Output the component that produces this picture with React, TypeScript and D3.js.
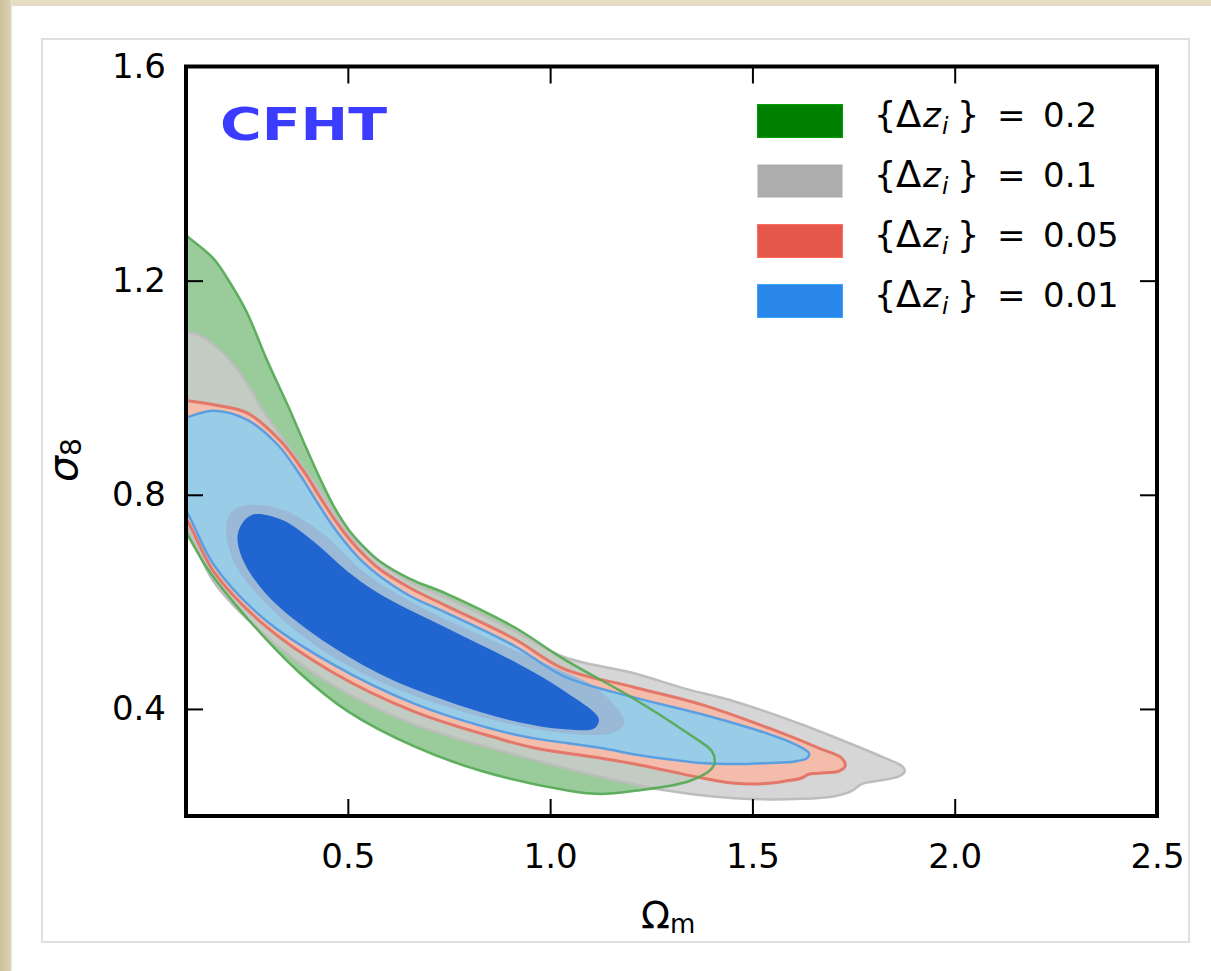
import React, { useEffect, useRef } from 'react'
import * as d3 from 'd3'

type Pt = [number, number]

const xTickValues = [0.5, 1.0, 1.5, 2.0, 2.5]
const yTickValues = [0.4, 0.8, 1.2, 1.6]
const seriesNames = ['0.2', '0.1', '0.05', '0.01']
const legendColors = ['#008000', '#adadad', '#e5574a', '#2a88eb']

// contour outlines, [Omega_m, sigma_8]
// points at Omega_m = 0.05 close the shapes outside the frame
const green95: Pt[] = [
  [0.05, 1.32], [0.1, 1.285], [0.167, 1.242], [0.209, 1.196], [0.251, 1.14], [0.3, 1.052],
  [0.357, 0.958], [0.394, 0.893], [0.431, 0.831], [0.468, 0.775], [0.505, 0.732], [0.542, 0.701],
  [0.579, 0.676], [0.654, 0.643], [0.745, 0.615], [0.911, 0.553], [1.034, 0.493], [1.205, 0.42],
  [1.343, 0.353], [1.4, 0.321], [1.407, 0.302], [1.4, 0.289], [1.343, 0.265], [1.209, 0.247],
  [1.127, 0.241], [1.046, 0.247], [0.83, 0.284], [0.664, 0.33], [0.501, 0.395], [0.377, 0.47],
  [0.253, 0.568], [0.154, 0.661], [0.1, 0.73], [0.05, 0.79],
]
const gray95: Pt[] = [
  [0.05, 1.115], [0.105, 1.104], [0.135, 1.097], [0.191, 1.065], [0.246, 1.014], [0.29, 0.958],
  [0.345, 0.899], [0.399, 0.841], [0.439, 0.8], [0.473, 0.758], [0.51, 0.721], [0.547, 0.695],
  [0.579, 0.674], [0.654, 0.637], [0.745, 0.607], [0.911, 0.546], [1.034, 0.497], [1.205, 0.467],
  [1.333, 0.438], [1.456, 0.414], [1.622, 0.371], [1.746, 0.334], [1.828, 0.308], [1.87, 0.293],
  [1.877, 0.284], [1.862, 0.274], [1.803, 0.265], [1.771, 0.26], [1.746, 0.247], [1.704, 0.237],
  [1.622, 0.232], [1.456, 0.233], [1.293, 0.247], [1.127, 0.273], [0.912, 0.315], [0.664, 0.371],
  [0.459, 0.446], [0.293, 0.539], [0.169, 0.637], [0.105, 0.736], [0.05, 0.8],
]
const gray68: Pt[] = [
  [0.199, 0.736], [0.211, 0.767], [0.244, 0.78], [0.335, 0.773], [0.434, 0.73], [0.541, 0.655],
  [0.664, 0.597], [0.83, 0.537], [0.996, 0.482], [1.12, 0.436], [1.184, 0.375], [1.159, 0.356],
  [1.078, 0.352], [0.912, 0.37], [0.749, 0.403], [0.583, 0.45], [0.417, 0.52], [0.293, 0.6],
  [0.219, 0.674],
]
const red95: Pt[] = [
  [0.05, 0.98], [0.1, 0.976], [0.169, 0.968], [0.251, 0.953], [0.332, 0.902], [0.389, 0.846],
  [0.431, 0.796], [0.468, 0.753], [0.505, 0.716], [0.542, 0.686], [0.579, 0.661], [0.654, 0.626],
  [0.745, 0.592], [0.911, 0.531], [1.034, 0.475], [1.205, 0.441], [1.375, 0.408], [1.541, 0.364],
  [1.664, 0.327], [1.721, 0.308], [1.729, 0.293], [1.714, 0.284], [1.664, 0.28], [1.639, 0.278],
  [1.622, 0.271], [1.58, 0.265], [1.541, 0.261], [1.456, 0.261], [1.375, 0.271], [1.293, 0.284],
  [1.209, 0.297], [1.127, 0.308], [0.961, 0.327], [0.88, 0.343], [0.664, 0.395], [0.459, 0.47],
  [0.293, 0.557], [0.169, 0.656], [0.105, 0.749], [0.05, 0.81],
]
const blue95: Pt[] = [
  [0.05, 0.93], [0.1, 0.944], [0.169, 0.957], [0.251, 0.94], [0.327, 0.893], [0.382, 0.837],
  [0.421, 0.79], [0.458, 0.747], [0.495, 0.71], [0.535, 0.676], [0.579, 0.648], [0.654, 0.611],
  [0.745, 0.579], [0.911, 0.518], [1.034, 0.461], [1.205, 0.422], [1.375, 0.39], [1.541, 0.353],
  [1.605, 0.334], [1.64, 0.317], [1.635, 0.308], [1.605, 0.302], [1.541, 0.299], [1.456, 0.297],
  [1.375, 0.299], [1.293, 0.306], [1.209, 0.315], [1.127, 0.327], [0.961, 0.345], [0.88, 0.358],
  [0.664, 0.41], [0.459, 0.485], [0.293, 0.568], [0.169, 0.669], [0.105, 0.764], [0.05, 0.83],
]
const blue68: Pt[] = [
  [0.229, 0.73], [0.261, 0.762], [0.335, 0.754], [0.417, 0.712], [0.501, 0.656], [0.583, 0.613],
  [0.748, 0.55], [0.912, 0.488], [1.036, 0.433], [1.12, 0.382], [1.11, 0.364], [1.036, 0.362],
  [0.912, 0.377], [0.748, 0.414], [0.583, 0.464], [0.417, 0.539], [0.293, 0.619], [0.236, 0.687],
]

const W = 1211
const H = 971
const font = 'DejaVu Sans'

export default function App() {
  const bottomRef = useRef<SVGGElement>(null)
  const topRef = useRef<SVGGElement>(null)
  const leftRef = useRef<SVGGElement>(null)
  const rightRef = useRef<SVGGElement>(null)

  const x = d3.scaleLinear().domain([0.1, 2.5]).range([186, 1157])
  const y = d3.scaleLinear().domain([0.2, 1.6]).range([816, 66.5])
  const contour = d3
    .line<Pt>()
    .x(d => x(d[0]))
    .y(d => y(d[1]))
    .curve(d3.curveCatmullRomClosed.alpha(0.5))

  useEffect(() => {
    const fmt = d3.format('.1f')
    const style = (g: any) => {
      g.select('.domain').remove()
      g.selectAll('line').attr('stroke', '#000').attr('stroke-width', 2)
      g.selectAll('text').attr('font-family', font).attr('font-size', 34).attr('fill', '#000')
    }
    d3.select(bottomRef.current!)
      .call(d3.axisBottom(x).tickValues(xTickValues).tickFormat(d => fmt(d as number)).tickSize(-17).tickPadding(28) as any)
      .call(style)
    d3.select(topRef.current!)
      .call(d3.axisTop(x).tickValues(xTickValues).tickFormat(() => '').tickSize(-17) as any)
      .call(style)
    d3.select(leftRef.current!)
      .call(d3.axisLeft(y).tickValues(yTickValues).tickFormat(d => fmt(d as number)).tickSize(-17).tickPadding(20) as any)
      .call(style)
    d3.select(rightRef.current!)
      .call(d3.axisRight(y).tickValues(yTickValues).tickFormat(() => '').tickSize(-17) as any)
      .call(style)
  }, [])

  const [x0, x1] = x.range()
  const [y0, y1] = y.range()

  return (
    <svg width={W} height={H} style={{ position: 'absolute', left: 0, top: 0 }}>
      <defs>
        <clipPath id="plot">
          <rect x={x0} y={y1} width={x1 - x0} height={y0 - y1} />
        </clipPath>
        <linearGradient id="paperLeft" x1="0" x2="1" y1="0" y2="0">
          <stop offset="0" stopColor="#cdc19c" />
          <stop offset="0.8" stopColor="#d9ceae" />
          <stop offset="1" stopColor="#eee9dc" />
        </linearGradient>
      </defs>
      <rect width={W} height={H} fill="#fefefe" />
      <rect width={W} height={6} fill="#e6ddc3" />
      <rect width={12} height={H} fill="url(#paperLeft)" />
      <rect x={42} y={39} width={1147} height={903} fill="#fff" stroke="#dfdfdf" strokeWidth={2} />

      <g clipPath="url(#plot)">
        <path d={contour(green95)!} fill="#9acb9a" />
        <path d={contour(gray95)!} fill="#cccccc" fillOpacity={0.8} />
        <path d={contour(red95)!} fill="#f3bcab" />
        <path d={contour(blue95)!} fill="#99cce7" />
        <path d={contour(gray68)!} fill="#9ab9d6" />
        <path d={contour(blue68)!} fill="#2065d0" />
        <path d={contour(gray95)!} fill="none" stroke="#bdbdbd" strokeWidth={2.5} />
        <path d={contour(red95)!} fill="none" stroke="#e3786a" strokeWidth={3} />
        <path d={contour(blue95)!} fill="none" stroke="#5b9fe3" strokeWidth={2.5} />
        <path d={contour(green95)!} fill="none" stroke="#52a852" strokeWidth={2.5} strokeOpacity={0.9} />
      </g>

      <g ref={topRef} transform={`translate(0,${y1})`} />
      <g ref={bottomRef} transform={`translate(0,${y0})`} />
      <g ref={leftRef} transform={`translate(${x0},0)`} />
      <g ref={rightRef} transform={`translate(${x1},0)`} />
      <rect x={x0} y={y1} width={x1 - x0} height={y0 - y1} fill="none" stroke="#000" strokeWidth={4} />

      <text x={220} y={140} fontFamily={font} fontWeight="bold" fontSize={44} fill="#3c3cff"
        textLength={167} lengthAdjust="spacingAndGlyphs">CFHT</text>

      {seriesNames.map((name, i) => (
        <g key={name} transform={`translate(757,${104 + i * 60})`} fontFamily={font} fontSize={34} fill="#000">
          <rect x={0.5} y={0.5} width={85} height={33} fill={legendColors[i]}
            stroke={d3.color(legendColors[i])!.brighter(0.6).formatHex()} strokeWidth={1} />
          <text y={23}>
            <tspan x={117} fontSize={35}>{'{'}</tspan>
            <tspan x={139} fontSize={37}>Δ</tspan>
            <tspan x={166} fontStyle="italic">z</tspan>
            <tspan x={185} dy={7} fontSize={23} fontStyle="italic">i</tspan>
            <tspan x={200} dy={-7} fontSize={35}>{'}'}</tspan>
            <tspan x={240}>=</tspan>
            <tspan x={286}>{name}</tspan>
          </text>
        </g>
      ))}

      <text x={641} y={928} fontFamily={font} fontSize={38} fill="#000">
        Ω<tspan fontSize={26} dy={5}>m</tspan>
      </text>
      <text transform="translate(77,460) rotate(-90)" textAnchor="middle" fontFamily={font} fontSize={41} fill="#000">
        <tspan fontStyle="italic">σ</tspan>
        <tspan fontSize={28} dy={4}>8</tspan>
      </text>
    </svg>
  )
}
